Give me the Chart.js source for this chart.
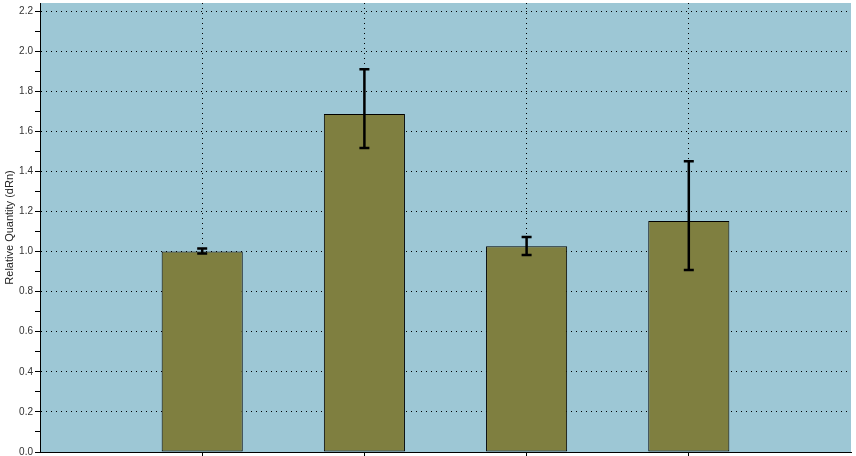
<!DOCTYPE html>
<html lang="en">
<head>
    <meta charset="UTF-8">
    <title>Relative Quantity</title>
    <style>
        * { margin: 0; padding: 0; box-sizing: border-box; }
        body { background: #ffffff; width: 856px; height: 456px; overflow: hidden; }
        #chart { display: block; }
    </style>
</head>
<body>
    <canvas id="chart" width="856" height="456"></canvas>

    <script src="https://cdn.jsdelivr.net/npm/chart.js@4"></script>
    <script>
        // slots on the x axis: empty slot either side of the four samples
        const slots = ['', 'S1', 'S2', 'S3', 'S4', ''];
        const quantity = [1.000, 1.686, 1.027, 1.152];
        const errHigh = [1.015, 1.910, 1.072, 1.451];
        const errLow = [0.990, 1.516, 0.983, 0.908];

        const plotBg = '#9DC7D5';
        const barColor = '#7F7F40';

        const padded = [null, ...quantity, null];
        const isEdge = i => i === 0 || i === slots.length - 1;

        // light blue plot area
        const plotBackground = {
            id: 'plotBackground',
            beforeDraw(chart) {
                const { ctx, chartArea: a } = chart;
                ctx.save();
                ctx.fillStyle = plotBg;
                ctx.fillRect(a.left, a.top, a.right - a.left, a.bottom - a.top);
                ctx.restore();
            }
        };

        // min/max whiskers on top of each bar
        const errorBars = {
            id: 'errorBars',
            afterDatasetsDraw(chart) {
                const { ctx } = chart;
                const y = chart.scales.y;
                const bars = chart.getDatasetMeta(0).data;
                ctx.save();
                ctx.strokeStyle = '#000000';
                ctx.lineWidth = 2.5;
                quantity.forEach((v, i) => {
                    const x = bars[i + 1].x;
                    const top = y.getPixelForValue(errHigh[i]);
                    const bot = y.getPixelForValue(errLow[i]);
                    ctx.beginPath();
                    ctx.moveTo(x, top); ctx.lineTo(x, bot);
                    ctx.moveTo(x - 5, top); ctx.lineTo(x + 5, top);
                    ctx.moveTo(x - 5, bot); ctx.lineTo(x + 5, bot);
                    ctx.stroke();
                });
                ctx.restore();
            }
        };

        new Chart(document.getElementById('chart'), {
            type: 'bar',
            data: {
                labels: slots,
                datasets: [{
                    data: padded,
                    backgroundColor: barColor,
                    borderColor: '#000000',
                    borderWidth: 1,
                    borderSkipped: false,
                    barPercentage: 0.5,
                    categoryPercentage: 1.0
                }]
            },
            options: {
                responsive: false,
                animation: false,
                devicePixelRatio: 1,
                layout: { padding: { top: 3, right: 5, left: 0, bottom: 0 } },
                plugins: {
                    legend: { display: false },
                    tooltip: { enabled: false }
                },
                scales: {
                    x: {
                        offset: false,
                        border: { color: '#000000', width: 1, dash: [1, 4] },
                        grid: {
                            offset: false,
                            color: c => isEdge(c.index) ? 'transparent' : '#000000',
                            tickColor: c => isEdge(c.index) ? 'transparent' : '#000000',
                            tickBorderDash: [],
                            tickLength: 4,
                            lineWidth: 1
                        },
                        ticks: { display: false },
                        afterFit(scale) { scale.height = 4; }
                    },
                    y: {
                        min: 0,
                        max: 2.24,
                        border: { color: '#000000', width: 1, dash: [1, 4] },
                        grid: {
                            color: c => (Math.round(c.tick.value * 10) % 2 === 0) ? '#000000' : 'transparent',
                            tickColor: '#000000',
                            tickBorderDash: [],
                            tickLength: 5,
                            lineWidth: 1
                        },
                        ticks: {
                            stepSize: 0.1,
                            includeBounds: false,
                            autoSkip: false,
                            padding: 2,
                            color: '#333333',
                            font: { family: 'Arial, "Liberation Sans", sans-serif', size: 10 },
                            callback: v => (Math.round(v * 10) % 2 === 0) ? v.toFixed(1) : ''
                        },
                        title: {
                            display: true,
                            text: 'Relative Quantity (dRn)',
                            color: '#222222',
                            padding: { top: 3, bottom: 0 },
                            font: { family: 'Arial, "Liberation Sans", sans-serif', size: 11 }
                        },
                        afterFit(scale) {
                            scale.width = 40;
                            scale.paddingTop = 0;
                            scale.paddingBottom = 0;
                        }
                    }
                }
            },
            plugins: [plotBackground, errorBars]
        });
    </script>
</body>
</html>
